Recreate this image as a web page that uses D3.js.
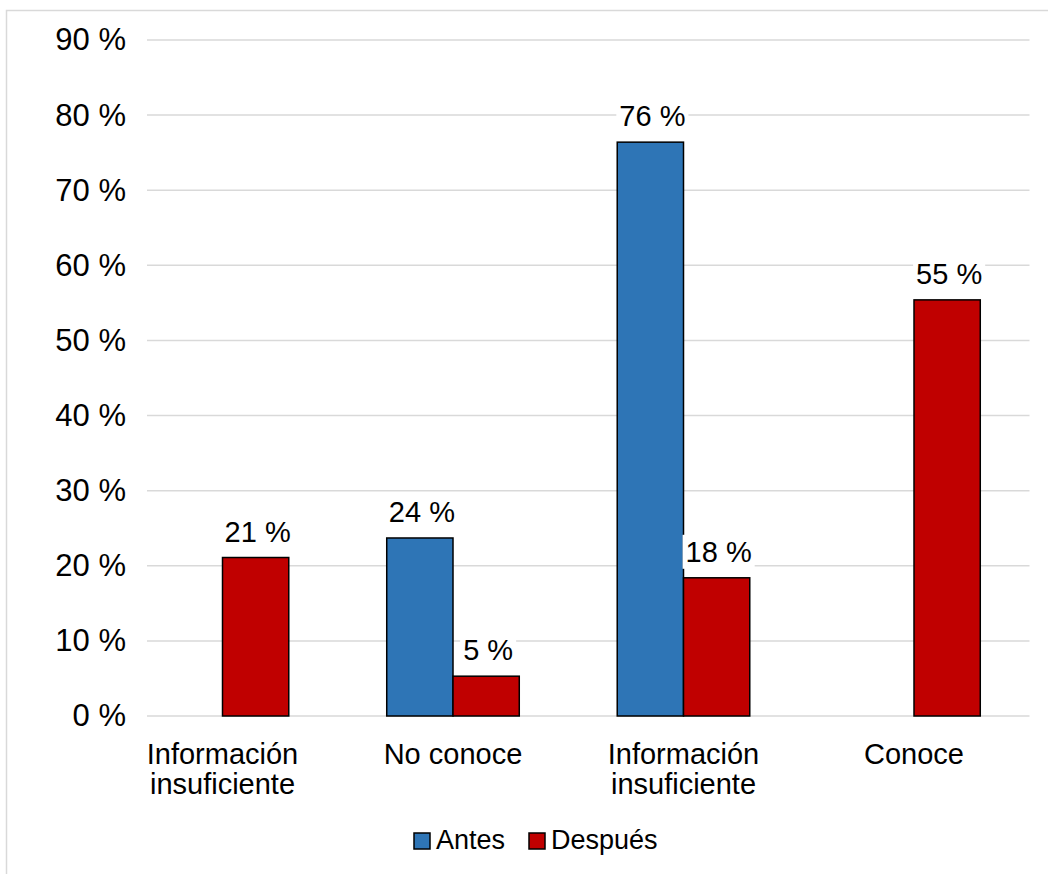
<!DOCTYPE html>
<html>
<head>
<meta charset="utf-8">
<script src="https://cdn.jsdelivr.net/npm/d3@7"></script>
<style>
  html, body { margin: 0; padding: 0; background: #ffffff; }
  svg { display: block; font-family: "Liberation Sans", Arial, sans-serif; }
</style>
</head>
<body>
<svg id="chart" width="1048" height="874"></svg>
<script>
// Category labels (two lines where needed) and series values in percent
const categories = [
  ["Información", "insuficiente"],
  ["No conoce"],
  ["Información", "insuficiente"],
  ["Conoce"]
];
const seriesNames = ["Antes", "Después"];
const antes   = [null, 23.7, 76.4, null];
const despues = [21.1, 5.3, 18.4, 55.4];
const yTicks  = [0, 10, 20, 30, 40, 50, 60, 70, 80, 90];
const seriesColors = ["#2e75b6", "#c00000"];

const svg = d3.select("#chart");
const W = 1048, H = 874;

svg.append("rect").attr("width", W).attr("height", H).attr("fill", "#fff");
// chart area frame
svg.append("rect")
  .attr("x", 6.5).attr("y", 10.5)
  .attr("width", W + 20).attr("height", H + 20)
  .attr("fill", "none").attr("stroke", "#d9d9d9").attr("stroke-width", 1.5);

const plotLeft = 147, plotRight = 1029.5;
const y = d3.scaleLinear().domain([0, 90]).range([716, 40]);

const catKeys = categories.map((c, i) => i);
const x0 = d3.scaleBand().domain(catKeys).range([107.25, 1029.25])
  .paddingInner(0.425).paddingOuter(0.2125);
const x1 = d3.scaleBand().domain(seriesNames).range([0, x0.bandwidth()]);

// gridlines
const grid = svg.append("g");
grid.selectAll("line").data(yTicks).join("line")
  .attr("x1", plotLeft).attr("x2", plotRight)
  .attr("y1", d => y(d)).attr("y2", d => y(d))
  .attr("stroke", "#d9d9d9").attr("stroke-width", 1.5);

// y axis labels
const yAxis = d3.axisLeft(y).tickValues(yTicks).tickSize(0).tickPadding(0)
  .tickFormat(d => d + " %");
const yg = svg.append("g").attr("transform", "translate(126,0)").call(yAxis);
yg.select(".domain").remove();
yg.selectAll("text")
  .attr("font-size", 31).attr("fill", "#000")
  .attr("font-family", "'Liberation Sans', Arial, sans-serif");

// bars
const rows = [];
catKeys.forEach(i => {
  [antes[i], despues[i]].forEach((v, s) => {
    if (v != null) rows.push({ cat: i, series: seriesNames[s], color: seriesColors[s], value: v });
  });
});

svg.append("g").selectAll("rect").data(rows).join("rect")
  .attr("x", d => x0(d.cat) + x1(d.series))
  .attr("y", d => y(d.value))
  .attr("width", x1.bandwidth())
  .attr("height", d => y(0) - y(d.value))
  .attr("fill", d => d.color)
  .attr("stroke", "#000").attr("stroke-width", 1.5);

// value labels with white backing
const lab = svg.append("g").selectAll("g").data(rows).join("g")
  .attr("transform", d => `translate(${x0(d.cat) + x1(d.series) + x1.bandwidth() / 2 + 2},${y(d.value) - 16})`);
lab.append("text")
  .attr("text-anchor", "middle")
  .attr("font-size", 29).attr("fill", "#000")
  .text(d => Math.round(d.value) + " %");
lab.each(function() {
  const g = d3.select(this);
  const b = g.select("text").node().getBBox();
  g.insert("rect", "text")
    .attr("x", b.x - 3).attr("y", b.y - 1)
    .attr("width", b.width + 6).attr("height", b.height + 2)
    .attr("fill", "#fff");
});

// category labels
const cl = svg.append("g").selectAll("text").data(catKeys).join("text")
  .attr("text-anchor", "middle")
  .attr("x", i => x0(i) + x0.bandwidth() / 2)
  .attr("y", 764)
  .attr("font-size", 29).attr("fill", "#000");
cl.selectAll("tspan").data(i => categories[i]).join("tspan")
  .attr("x", function() { return d3.select(this.parentNode).attr("x"); })
  .attr("dy", (d, j) => j === 0 ? 0 : 30)
  .text(d => d);

// legend
const legend = svg.append("g");
const legendX = [414, 529];
seriesNames.forEach((name, s) => {
  legend.append("rect")
    .attr("x", legendX[s]).attr("y", 833)
    .attr("width", 16).attr("height", 16)
    .attr("fill", seriesColors[s]).attr("stroke", "#000").attr("stroke-width", 1.5);
  legend.append("text")
    .attr("x", legendX[s] + 22).attr("y", 849)
    .attr("font-size", 27).attr("fill", "#000")
    .text(name);
});
</script>
</body>
</html>
